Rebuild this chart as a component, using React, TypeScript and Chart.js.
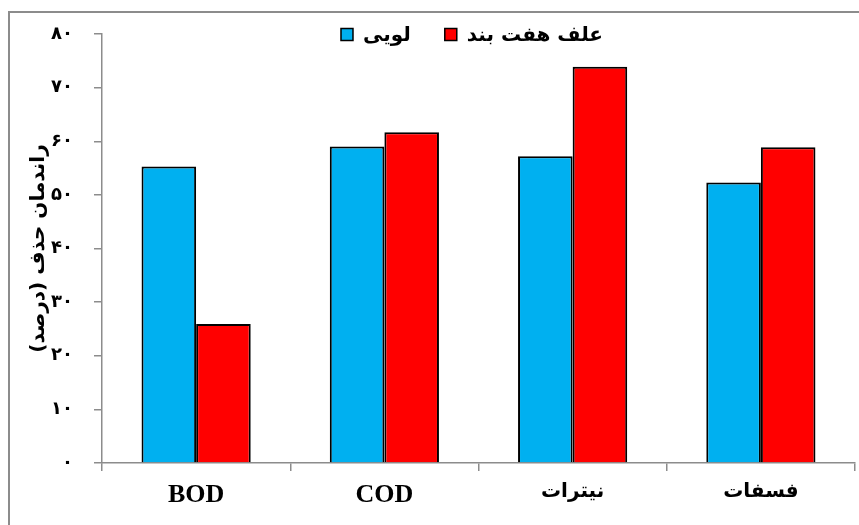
import React, { useEffect, useRef } from 'react';
import { Chart, registerables } from 'chart.js';

Chart.register(...registerables);

const categories = ['BOD', 'COD', 'نیترات', 'فسفات'];
const seriesNames = ['لویی', 'علف هفت بند'];
const louiValues = [55.3, 59.0, 57.2, 52.3];
const alafValues = [25.9, 61.7, 73.9, 58.9];
const yTickLabels = ['۰', '۱۰', '۲۰', '۳۰', '۴۰', '۵۰', '۶۰', '۷۰', '۸۰'];
const yTitle = 'راندمان حذف (درصد)';

const BLUE = '#00B0F0';
const RED = '#FF0000';
const AXIS = '#8c8c8c';
const AR_FONT = "'DejaVu Sans', sans-serif";
const LAT_FONT = "'Liberation Serif', 'DejaVu Sans', serif";

const framePlugin = {
  id: 'frame',
  beforeDraw(chart: any) {
    const ctx = chart.ctx;
    ctx.save();
    ctx.strokeStyle = AXIS;
    ctx.lineWidth = 2;
    ctx.beginPath();
    ctx.moveTo(9, chart.height + 2);
    ctx.lineTo(9, 12);
    ctx.lineTo(chart.width + 2, 12);
    ctx.stroke();
    ctx.restore();
  },
};

const legendPlugin = {
  id: 'customLegend',
  afterDraw(chart: any) {
    const ctx = chart.ctx;
    const ds = chart.data.datasets;
    ctx.save();
    ctx.font = `bold 20px ${AR_FONT}`;
    ctx.textBaseline = 'middle';
    ctx.textAlign = 'left';
    const box = 12;
    const gapBoxText = 10;
    const gapItems = 34;
    const widths = ds.map((d: any) => ctx.measureText(d.label).width);
    let total = 0;
    ds.forEach((_d: any, i: number) => {
      total += box + gapBoxText + widths[i];
      if (i < ds.length - 1) total += gapItems;
    });
    const cx = 472;
    let x = cx - total / 2;
    const y = 34.5;
    ds.forEach((d: any, i: number) => {
      ctx.fillStyle = d.backgroundColor;
      ctx.fillRect(x, y - box / 2, box, box);
      ctx.strokeStyle = '#000';
      ctx.lineWidth = 1.5;
      ctx.strokeRect(x, y - box / 2, box, box);
      x += box + gapBoxText;
      ctx.fillStyle = '#000';
      ctx.fillText(d.label, x, y + 1);
      x += widths[i] + gapItems;
    });
    ctx.restore();
  },
};

export default function App() {
  const ref = useRef<HTMLCanvasElement>(null);

  useEffect(() => {
    document.body.style.margin = '0';
    document.body.style.overflow = 'hidden';
    const canvas = ref.current!;
    const chart = new Chart(canvas, {
      type: 'bar',
      data: {
        labels: categories,
        datasets: [
          {
            label: seriesNames[0],
            data: louiValues,
            backgroundColor: BLUE,
            borderColor: '#000',
            borderWidth: 2,
            categoryPercentage: 0.58,
            barPercentage: 1.0,
          },
          {
            label: seriesNames[1],
            data: alafValues,
            backgroundColor: RED,
            borderColor: '#000',
            borderWidth: 2,
            categoryPercentage: 0.58,
            barPercentage: 1.0,
          },
        ],
      },
      options: {
        responsive: false,
        animation: false,
        devicePixelRatio: 1,
        layout: { padding: { top: 34, right: 4, left: 0, bottom: 0 } },
        plugins: {
          legend: { display: false },
          tooltip: { enabled: false },
        },
        scales: {
          x: {
            offset: true,
            border: { display: true, color: AXIS, width: 1.5 },
            grid: {
              display: true,
              offset: true,
              drawOnChartArea: false,
              drawTicks: true,
              tickLength: 8,
              color: AXIS,
              lineWidth: 1.5,
            },
            ticks: {
              color: '#000',
              padding: 9,
              maxRotation: 0,
              font: (c: any) => {
                const lbl = categories[c.index] || '';
                const latin = /^[A-Za-z]+$/.test(lbl);
                return latin
                  ? { family: LAT_FONT, size: 26, weight: 'bold' }
                  : { family: AR_FONT, size: 20, weight: 'bold' };
              },
            },
            afterFit: (s: any) => {
              s.height = 62;
            },
          },
          y: {
            min: 0,
            max: 80,
            border: { display: true, color: AXIS, width: 1.5 },
            grid: {
              display: true,
              drawOnChartArea: false,
              drawTicks: true,
              tickLength: 8,
              color: AXIS,
              lineWidth: 1.5,
            },
            ticks: {
              stepSize: 10,
              color: '#000',
              padding: 21,
              font: { family: AR_FONT, size: 18, weight: 'bold' },
              callback: (_v: any, i: number) => yTickLabels[i],
            },
            title: {
              display: true,
              text: yTitle,
              color: '#000',
              font: { family: AR_FONT, size: 20, weight: 'bold' },
              padding: { top: 27, bottom: 0 },
            },
            afterFit: (s: any) => {
              s.width = 102;
            },
          },
        },
      },
      plugins: [framePlugin, legendPlugin],
    } as any);
    return () => chart.destroy();
  }, []);

  return (
    <div style={{ width: 859, height: 525 }}>
      <canvas ref={ref} width={859} height={525} dir="rtl" style={{ display: 'block' }} />
    </div>
  );
}
